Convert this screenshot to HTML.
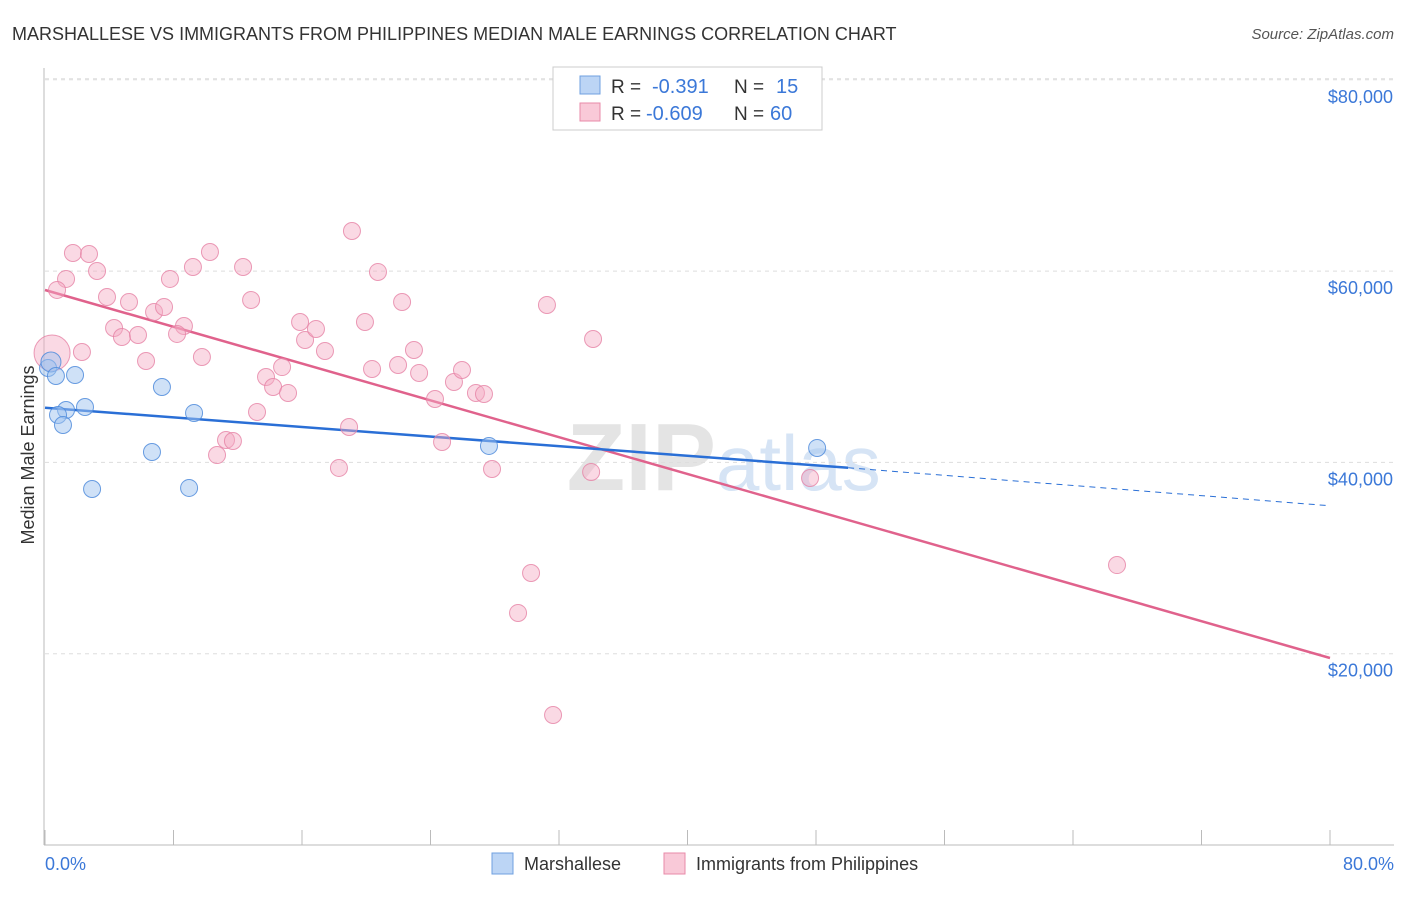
<!DOCTYPE html>
<html><head><meta charset="utf-8"><style>
body{margin:0;background:#fff;font-family:"Liberation Sans",sans-serif;}
svg text{font-family:"Liberation Sans",sans-serif;}
</style></head><body>
<svg id="chart" width="1406" height="892" xmlns="http://www.w3.org/2000/svg">
<text x="12" y="40" font-size="18" fill="#333">MARSHALLESE VS IMMIGRANTS FROM PHILIPPINES MEDIAN MALE EARNINGS CORRELATION CHART</text>
<text x="1394" y="39" font-size="15" fill="#555" font-style="italic" text-anchor="end">Source: ZipAtlas.com</text>
<text x="716" y="490" font-size="96" font-weight="bold" fill="#e4e4e4" text-anchor="end">ZIP</text>
<text x="716" y="490" font-size="78" fill="#d6e4f5">atlas</text>
<g id="grid"></g>
<g id="axes"></g>
<g id="trends"></g>
<g id="points"></g>
<text transform="translate(34,455) rotate(-90)" font-size="18" fill="#333" text-anchor="middle">Median Male Earnings</text>
<text x="45" y="870" font-size="18" fill="#3b78d8">0.0%</text>
<text x="1394" y="870" font-size="18" fill="#3b78d8" text-anchor="end">80.0%</text>
<g>
<rect x="553" y="67" width="269" height="63" fill="#fff" stroke="#ccc"/>
<rect x="580" y="76" width="20" height="18" fill="#bcd5f5" stroke="#6fa0e0"/>
<rect x="580" y="103" width="20" height="18" fill="#f9c9d8" stroke="#e88aa8"/>
<text x="611" y="93" font-size="19" fill="#333">R =</text>
<text x="652" y="93" font-size="20" fill="#3b78d8">-0.391</text>
<text x="734" y="93" font-size="19" fill="#333">N =</text>
<text x="776" y="93" font-size="20" fill="#3b78d8">15</text>
<text x="611" y="120" font-size="19" fill="#333">R =</text>
<text x="646" y="120" font-size="20" fill="#3b78d8">-0.609</text>
<text x="734" y="120" font-size="19" fill="#333">N =</text>
<text x="770" y="120" font-size="20" fill="#3b78d8">60</text>
</g>
<g>
<rect x="492" y="853" width="21" height="21" fill="#bcd5f5" stroke="#6fa0e0"/>
<text x="524" y="870" font-size="18" fill="#333">Marshallese</text>
<rect x="664" y="853" width="21" height="21" fill="#f9c9d8" stroke="#e88aa8"/>
<text x="696" y="870" font-size="18" fill="#333">Immigrants from Philippines</text>
</g>
</svg>
<script>
const yTicks=[20000,40000,60000,80000];
const yTickLabels=["$20,000","$40,000","$60,000","$80,000"];
const blueX=[0.19,0.37,0.68,1.87,1.31,0.81,2.49,1.12,7.28,9.28,6.66,2.93,8.97,27.64,48.07];
const blueY=[49870,50500,49030,49140,45480,44960,45790,43910,47880,45170,41090,37220,37330,41720,41510];
const pinkX=[1.74,2.74,1.31,3.24,0.75,3.86,5.23,4.30,4.79,5.79,6.79,7.41,8.65,8.22,7.78,9.21,10.27,12.33,12.83,9.77,6.29,2.30,0.44,13.76,14.20,15.13,14.76,13.20,11.27,11.70,10.71,15.88,16.19,16.87,17.43,19.11,20.73,22.23,19.92,20.36,21.98,22.97,23.29,24.28,24.72,25.46,25.96,26.83,27.33,18.93,18.30,27.83,31.25,34.12,34.00,47.63,30.26,29.45,31.63,66.74];
const pinkY=[61890,61790,59180,60010,58030,57290,56770,54050,53110,53320,55730,56250,54260,53430,59180,60430,62000,60430,56980,51020,50600,51540,51440,48930,47880,47260,49970,45270,42340,42240,40770,54680,52800,53950,51650,64190,59910,56770,54680,49770,50180,51750,49350,46630,42130,48410,49660,47260,47150,43700,39420,39310,56460,52900,39000,38370,28440,24260,13590,29270];
const pinkTrendX=[0,80];
const pinkTrendY=[58024,19550];
const blueTrendX=[0,50,80];
const blueTrendY=[45711,39439,35466];
const NS="http://www.w3.org/2000/svg";
const xs=v=>45+v/80*1285;
const ys=v=>845-v/20000*191.3;
function mk(t,a,p){const e=document.createElementNS(NS,t);for(const k in a)e.setAttribute(k,a[k]);document.getElementById(p).appendChild(e);return e;}
yTicks.forEach((t,i)=>{
 const g=mk('line',{x1:45,x2:1394,y1:ys(t),y2:ys(t),stroke:'#ddd','stroke-dasharray':'4,4'},'grid');
 
 
 const l=mk('text',{x:1393,y:ys(t)+23,'font-size':18,fill:'#3b78d8','text-anchor':'end'},'axes');
 l.textContent=yTickLabels[i];
 
 
});
const topGrid=mk('line',{x1:45,x2:1394,y1:ys(80000)-1,y2:ys(80000)-1,stroke:'#ddd','stroke-dasharray':'4,4'},'grid');


const ya=mk('line',{x1:44,x2:44,y1:68,y2:845,stroke:'#bbb'},'axes');


const xa=mk('line',{x1:44,x2:1394,y1:845,y2:845,stroke:'#bbb'},'axes');


for(let i=0;i<=10;i++){
 const t=mk('line',{x1:xs(i*8),x2:xs(i*8),y1:830,y2:845,stroke:'#bbb'},'axes');
 
 
}
const pl=mk('line',{x1:xs(pinkTrendX[0]),y1:ys(pinkTrendY[0]),x2:xs(pinkTrendX[1]),y2:ys(pinkTrendY[1]),stroke:'#e0628c','stroke-width':2.5},'trends');


const bl=mk('line',{x1:xs(blueTrendX[0]),y1:ys(blueTrendY[0]),x2:xs(blueTrendX[1]),y2:ys(blueTrendY[1]),stroke:'#2a6fd6','stroke-width':2.5},'trends');


const bd=mk('line',{x1:xs(blueTrendX[1]),y1:ys(blueTrendY[1]),x2:xs(blueTrendX[2]),y2:ys(blueTrendY[2]),stroke:'#2a6fd6','stroke-width':1,'stroke-dasharray':'6,5'},'trends');


pinkX.forEach((x,i)=>{
 const r=(i===22)?18:8.5;
 const c=mk('circle',{cx:xs(x),cy:ys(pinkY[i]),r:r,fill:'rgba(245,170,195,0.45)',stroke:'rgba(230,130,165,0.8)','stroke-width':1},'points');
 
 
});
blueX.forEach((x,i)=>{
 const r=(i===1)?10:8.5;
 const c=mk('circle',{cx:xs(x),cy:ys(blueY[i]),r:r,fill:'rgba(160,195,240,0.5)',stroke:'rgba(80,140,220,0.85)','stroke-width':1},'points');
 
 
});
</script>
</body></html>
